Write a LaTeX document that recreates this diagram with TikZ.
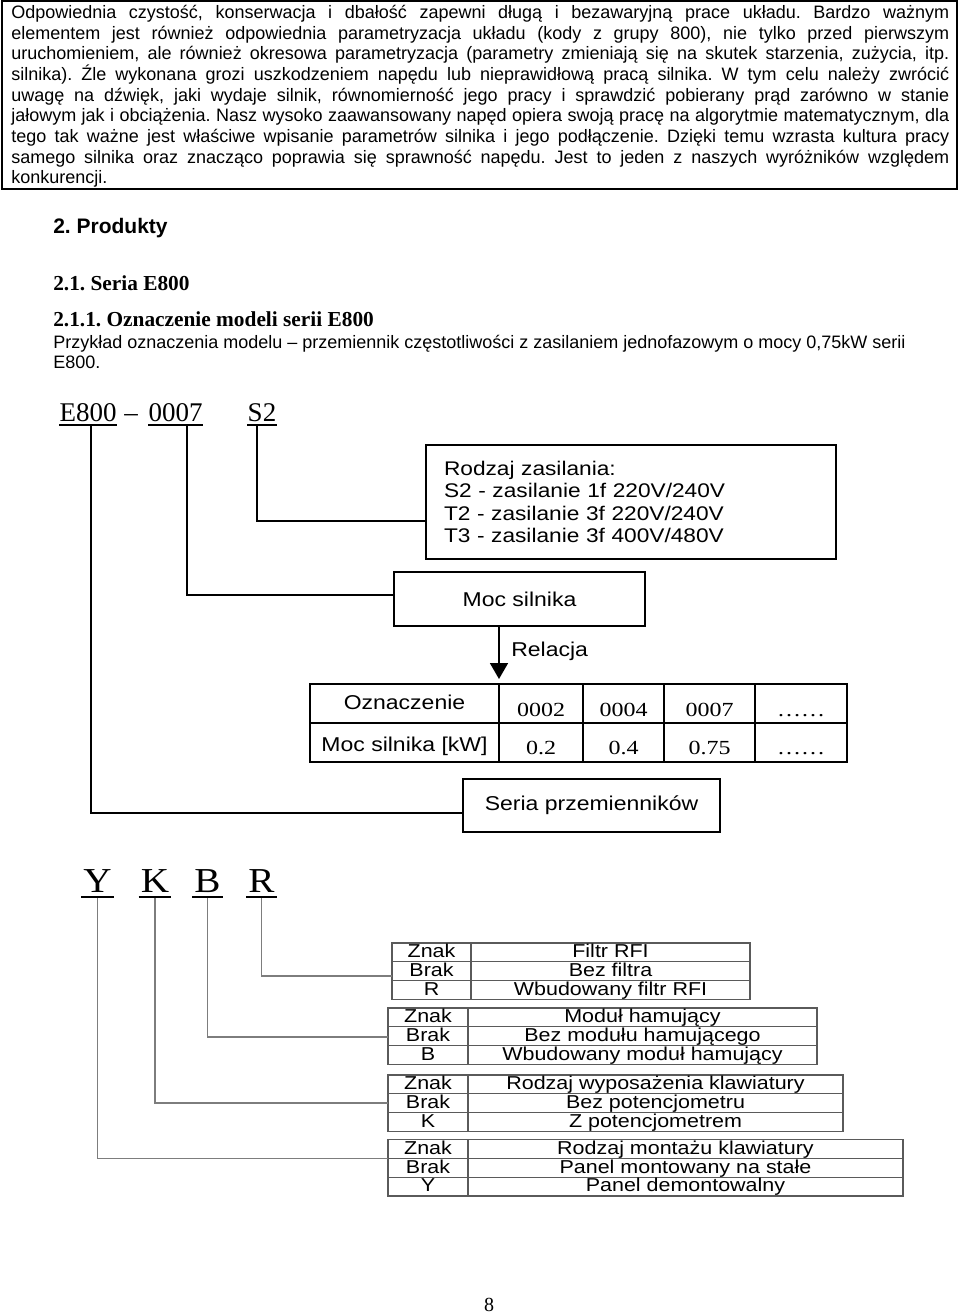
\documentclass[tikz,border=0pt]{standalone}
\usepackage{fontspec}
\setmainfont{Liberation Sans}[BoldFont={Liberation Sans Bold}]
\newfontfamily\serifface{Liberation Serif}[BoldFont={Liberation Serif Bold}]
\newfontfamily\diagsans[FakeStretch=1.15]{Liberation Sans}
\newfontfamily\diagserif[FakeStretch=1.2]{Liberation Serif}
\newfontfamily\symserif[FakeStretch=1.12]{Liberation Serif}
\usetikzlibrary{arrows.meta, positioning, calc}
\definecolor{leadgray}{RGB}{125,125,125}
\definecolor{tabgray}{RGB}{90,90,90}
\frenchspacing

\begin{document}
\begin{tikzpicture}[x=0.75pt, y=-0.75pt,
  box/.style={draw, line width=1.3pt, inner sep=0pt},
  lead/.style={line width=1.3pt},
  greylead/.style={draw=leadgray, line width=0.8pt},
  tabline/.style={draw=tabgray, line width=0.9pt},
  plain/.style={inner sep=0pt, anchor=base west},
  codetext/.style={inner sep=0pt, anchor=base, font=\serifface\fontsize{20.25pt}{20pt}\selectfont},
  symtext/.style={inner sep=0pt, anchor=base, font=\symserif\fontsize{26.25pt}{26pt}\selectfont},
  diagtext/.style={font=\diagsans\fontsize{15pt}{17pt}\selectfont},
  numtext/.style={inner sep=0pt, anchor=base, font=\diagserif\fontsize{15pt}{15pt}\selectfont},
  celltext/.style={inner sep=0pt, anchor=base, font=\diagsans\fontsize{14pt}{14pt}\selectfont}]
\useasboundingbox (0,0) rectangle (960,1314);

\draw [line width=1.5pt] (2,1) rectangle (957,189);
\node [plain, text width=703.5pt, align=justify, font=\fontsize{13.5pt}{15.5pt}\selectfont] (intro) at (11,18.5)
 {Odpowiednia czystość, konserwacja i dbałość zapewni długą i bezawaryjną prace układu. Bardzo ważnym\linebreak
 elementem jest również odpowiednia parametryzacja układu (kody z grupy 800), nie tylko przed pierwszym\linebreak
 uruchomieniem, ale również okresowa parametryzacja (parametry zmieniają się na skutek starzenia, zużycia, itp.\linebreak
 silnika). Źle wykonana grozi uszkodzeniem napędu lub nieprawidłową pracą silnika. W tym celu należy zwrócić\linebreak
 uwagę na dźwięk, jaki wydaje silnik, równomierność jego pracy i sprawdzić pobierany prąd zarówno w stanie\linebreak
 jałowym jak i obciążenia. Nasz wysoko zaawansowany napęd opiera swoją pracę na algorytmie matematycznym, dla\linebreak
 tego tak ważne jest właściwe wpisanie parametrów silnika i jego podłączenie. Dzięki temu wzrasta kultura pracy\linebreak
 samego silnika oraz znacząco poprawia się sprawność napędu. Jest to jeden z naszych wyróżników względem\linebreak
 konkurencji.};

\node [plain, font=\bfseries\fontsize{15.75pt}{18pt}\selectfont] (sec) at (53,233) {2. Produkty};
\node [plain, font=\serifface\bfseries\fontsize{16pt}{18pt}\selectfont] (subsec) at (53,290) {2.1. Seria E800};
\node [plain, font=\serifface\bfseries\fontsize{16pt}{18pt}\selectfont] (subsubsec) at (53,326) {2.1.1. Oznaczenie modeli serii E800};
\node [plain, font=\fontsize{13.5pt}{15pt}\selectfont] (exa) at (53,348) {Przykład oznaczenia modelu – przemiennik częstotliwości z zasilaniem jednofazowym o mocy 0,75kW serii};
\node [plain, font=\fontsize{13.5pt}{15pt}\selectfont] (exb) at (53,368) {E800.};

% model code E800 - 0007 S2
\node [codetext] (cE) at (88,421) {E800};
\node [codetext] (cdash) at (131,421) {–};
\node [codetext] (cP) at (175.5,421) {0007};
\node [codetext] (cS) at (262,421) {S2};
\foreach \n in {cE,cP,cS}
  \draw [line width=1.1pt] ([yshift=-3pt]\n.base west) -- ([yshift=-3pt]\n.base east);

\node [box, minimum width=307.5pt, minimum height=85.5pt, text width=280.5pt, inner xsep=13.5pt, align=left,
  font=\diagsans\fontsize{14.8pt}{16.9pt}\selectfont] (supply) at (631,502)
 {Rodzaj zasilania:\\ S2 - zasilanie 1f 220V/240V\\ T2 - zasilanie 3f 220V/240V\\ T3 - zasilanie 3f 400V/480V};
\node [box, diagtext, minimum width=188.25pt, minimum height=40.5pt] (moc) at (519.5,599) {Moc silnika};
\node [box, diagtext, minimum width=192.75pt, minimum height=39.75pt] (seria) at (591.5,805.5) {Seria przemienników};

\draw [lead] ($(cS.base)+(-5,4)$) |- ($(supply.west)+(0,19)$);
\draw [lead] ($(cP.base)+(11.5,4)$) |- ($(moc.west)+(0,-4)$);
\draw [lead] ($(cE.base)+(3,4)$) |- ($(seria.west)+(0,7.5)$);

\coordinate (reltip) at (499,679);
\draw [lead, -{Triangle[width=13.5pt, length=12pt]}] (moc.south -| reltip) -- (reltip);
\node [plain, diagtext] (rel) at (511,656) {Relacja};

% relation table
\draw [line width=1pt] (310,684) rectangle (847,762);
\draw [line width=1pt] (310,723) -- (847,723);
\foreach \x in {499,583,664,755}
  \draw [line width=1pt] (\x,684) -- (\x,762);
\node [diagtext, inner sep=0pt, anchor=base] (desig) at (404.5,709) {Oznaczenie};
\node [diagtext, inner sep=0pt, anchor=base] (power) at (404.5,751) {Moc silnika [kW]};
\foreach \x/\c/\p [count=\i] in {541/0002/0.2, 623.5/0004/0.4, 709.5/0007/0.75, 801/……/……} {
  \node [numtext] (code\i) at (\x,716) {\c};
  \node [numtext] (kw\i) at (\x,754) {\p};
}

% options Y K B R
\node [symtext] (sY) at (97.5,892) {Y};
\node [symtext] (sK) at (155,892) {K};
\node [symtext] (sB) at (207.5,892) {B};
\node [symtext] (sR) at (261.5,892) {R};
\foreach \n in {sY,sK,sB,sR}
  \draw [line width=1.5pt] ([xshift=-1.5pt, yshift=-3.75pt]\n.base west) -- ([xshift=1.5pt, yshift=-3.75pt]\n.base east);

\foreach \s/\t/\l/\r/\d/\y/\ta/\tb/\tc in {
  R/943/392/750/471/976/Filtr RFI/Bez filtra/Wbudowany filtr RFI,
  B/1008/388/817/468/1037/Moduł hamujący/Bez modułu hamującego/Wbudowany moduł hamujący,
  K/1075/388/843/468/1103/Rodzaj wyposażenia klawiatury/Bez potencjometru/Z potencjometrem,
  Y/1139.5/388/903/468/1158.3/Rodzaj montażu klawiatury/Panel montowany na stałe/Panel demontowalny} {
  \draw [tabline] (\l,\t) rectangle (\r,\t+56.4);
  \draw [tabline] (\l,\t+18.8) -- (\r,\t+18.8) (\l,\t+37.6) -- (\r,\t+37.6) (\d,\t) -- (\d,\t+56.4);
  \node [celltext] (znak\s) at ({(\l+\d)/2},\t+14.8) {Znak};
  \node [celltext] (brak\s) at ({(\l+\d)/2},\t+33.6) {Brak};
  \node [celltext] (sym\s) at ({(\l+\d)/2},\t+52.4) {\s};
  \node [celltext] (head\s) at ({(\d+\r)/2},\t+14.8) {\ta};
  \node [celltext] (none\s) at ({(\d+\r)/2},\t+33.6) {\tb};
  \node [celltext] (with\s) at ({(\d+\r)/2},\t+52.4) {\tc};
  \coordinate (in\s) at (\l,\y);
}
\foreach \s in {Y,K,B,R}
  \draw [greylead] ($(s\s.base)+(0,6)$) |- (in\s);

\node [inner sep=0pt, anchor=base, font=\serifface\fontsize{15pt}{15pt}\selectfont] (pagenum) at (489,1311) {8};
\end{tikzpicture}
\end{document}
